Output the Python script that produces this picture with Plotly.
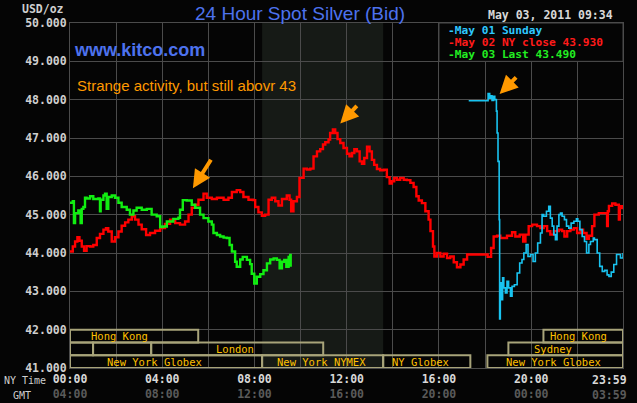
import plotly.graph_objects as go

# hours after 00:00 NY time, bid price in USD/oz
may01_hours = [17.29, 18.08, 18.13, 18.20, 18.26, 18.30, 18.37, 18.42, 18.49, 18.52, 18.56, 18.61,
               18.63, 18.66, 18.71, 18.76, 18.81, 18.88, 18.95, 19.02, 19.10, 19.17, 19.27, 19.39,
               19.50, 19.60, 19.68, 19.78, 19.86, 19.97, 20.08, 20.18, 20.28, 20.40, 20.47, 20.54,
               20.66, 20.76, 20.83, 20.91, 20.98, 21.05, 21.12, 21.20, 21.27, 21.34, 21.44, 21.53,
               21.63, 21.73, 21.85, 21.96, 22.02, 22.11, 22.21, 22.31, 22.40, 22.50, 22.57, 22.69,
               22.74, 22.86, 22.97, 23.08, 23.19, 23.29, 23.37, 23.47, 23.58, 23.70, 23.80, 23.87,
               23.98]
may01_price = [47.97, 47.97, 48.16, 48.04, 48.10, 47.98, 48.09, 48.00, 47.70, 47.13, 46.39, 44.87,
               42.28, 43.22, 42.78, 43.35, 43.09, 42.96, 43.26, 43.09, 42.87, 43.13, 43.17, 43.48,
               43.74, 43.83, 44.00, 44.22, 43.91, 43.96, 43.78, 44.00, 44.26, 44.52, 45.00, 44.96,
               45.09, 45.22, 44.91, 44.70, 44.48, 44.35, 44.70, 45.00, 45.04, 44.96, 44.87, 44.70,
               44.65, 44.78, 44.83, 44.89, 44.83, 44.61, 44.43, 44.30, 44.00, 44.22, 44.30, 44.39,
               44.35, 44.00, 43.65, 43.52, 43.55, 43.43, 43.39, 43.50, 43.70, 43.96, 43.96, 43.87,
               44.00]

may02_hours = [0.00, 0.12, 0.22, 0.32, 0.41, 0.51, 0.61, 0.72, 0.87, 1.01, 1.16, 1.30, 1.45, 1.56,
               1.66, 1.81, 1.95, 2.10, 2.24, 2.39, 2.53, 2.68, 2.82, 2.97, 3.11, 3.30, 3.47, 3.69,
               3.91, 4.12, 4.34, 4.56, 4.77, 4.99, 5.14, 5.28, 5.43, 5.57, 5.79, 5.93, 6.15, 6.37,
               6.66, 6.87, 7.02, 7.23, 7.38, 7.52, 7.74, 7.93, 8.03, 8.17, 8.32, 8.46, 8.61, 8.75,
               8.90, 9.04, 9.19, 9.40, 9.52, 9.59, 9.69, 9.84, 9.95, 10.13, 10.27, 10.42, 10.56,
               10.71, 10.85, 10.97, 11.07, 11.21, 11.28, 11.40, 11.50, 11.60, 11.72, 11.86, 12.01,
               12.12, 12.23, 12.33, 12.44, 12.56, 12.66, 12.76, 12.88, 12.99, 13.09, 13.19, 13.31,
               13.45, 13.60, 13.74, 13.86, 13.96, 14.06, 14.18, 14.32, 14.47, 14.61, 14.76, 14.90,
               15.02, 15.12, 15.26, 15.41, 15.55, 15.63, 15.74, 15.80, 15.91, 16.06, 16.20, 16.35,
               16.49, 16.64, 16.78, 16.93, 17.07, 17.22, 18.08, 18.11, 18.26, 18.37, 18.52, 18.66,
               18.81, 18.95, 19.17, 19.31, 19.50, 19.65, 19.75, 19.89, 20.04, 20.25, 20.40, 20.54,
               20.69, 20.83, 20.98, 21.20, 21.34, 21.44, 21.56, 21.70, 21.85, 21.99, 22.14, 22.25,
               22.40, 22.50, 22.64, 22.74, 22.93, 23.15, 23.29, 23.32, 23.37, 23.51, 23.65, 23.80,
               23.84, 23.94, 23.98]
may02_price = [44.04, 44.17, 44.30, 44.41, 44.32, 44.17, 44.06, 44.18, 44.17, 44.21, 44.39, 44.50,
               44.61, 44.65, 44.56, 44.30, 44.41, 44.56, 44.71, 44.80, 44.87, 44.96, 44.87, 44.74,
               44.62, 44.47, 44.52, 44.58, 44.65, 44.76, 44.87, 44.78, 44.74, 44.82, 45.00, 45.18,
               45.26, 45.39, 45.55, 45.44, 45.41, 45.44, 45.39, 45.44, 45.59, 45.64, 45.59, 45.46,
               45.39, 45.38, 45.20, 45.06, 44.97, 45.00, 45.39, 45.44, 45.35, 45.24, 45.41, 45.50,
               45.39, 45.09, 45.35, 45.46, 45.96, 46.20, 46.18, 46.20, 46.52, 46.65, 46.71, 46.83,
               46.89, 46.96, 47.13, 47.22, 47.13, 46.97, 46.87, 46.74, 46.59, 46.52, 46.61, 46.71,
               46.65, 46.39, 46.33, 46.48, 46.77, 46.65, 46.43, 46.30, 46.19, 46.16, 46.17, 45.98,
               45.81, 45.87, 45.96, 45.91, 45.96, 45.91, 45.90, 45.83, 45.72, 45.48, 45.37, 45.30,
               45.09, 44.87, 44.57, 44.17, 43.91, 44.00, 43.91, 43.98, 43.87, 43.91, 43.76, 43.63,
               43.70, 43.83, 43.96, 43.96, 43.90, 44.13, 44.43, 44.45, 44.39, 44.39, 44.45, 44.54,
               44.43, 44.48, 44.30, 44.48, 44.70, 44.74, 44.70, 44.65, 44.70, 44.57, 44.48, 44.57,
               44.61, 44.57, 44.43, 44.57, 44.61, 44.65, 44.52, 44.61, 44.52, 44.37, 44.45, 44.70,
               45.00, 45.04, 45.04, 44.70, 45.09, 45.23, 45.29, 45.26, 44.87, 45.22, 45.17, 45.17]

may03_hours = [0.00, 0.12, 0.17, 0.22, 0.36, 0.46, 0.51, 0.58, 0.65, 0.72, 0.87, 1.01, 1.23, 1.30,
               1.33, 1.45, 1.52, 1.59, 1.66, 1.81, 1.95, 2.10, 2.24, 2.46, 2.60, 2.75, 2.89, 3.11,
               3.33, 3.54, 3.76, 3.91, 4.02, 4.20, 4.48, 4.70, 4.77, 4.89, 5.06, 5.28, 5.43, 5.64,
               5.79, 6.00, 6.15, 6.22, 6.37, 6.51, 6.66, 6.80, 6.92, 7.02, 7.16, 7.23, 7.38, 7.49,
               7.67, 7.81, 7.88, 7.99, 8.10, 8.25, 8.39, 8.54, 8.68, 8.83, 8.97, 9.09, 9.19, 9.29,
               9.38, 9.48, 9.55, 9.57]
may03_price = [45.31, 45.35, 44.78, 45.04, 45.11, 44.78, 45.15, 45.20, 45.44, 45.42, 45.48, 45.41,
               45.42, 45.09, 45.39, 45.50, 45.55, 45.15, 45.46, 45.50, 45.44, 45.31, 45.20, 45.13,
               45.00, 45.11, 45.18, 45.13, 45.15, 45.00, 44.96, 44.68, 44.69, 44.82, 44.89, 44.92,
               45.13, 45.38, 45.37, 45.26, 45.18, 45.00, 44.91, 44.82, 44.74, 44.52, 44.47, 44.43,
               44.40, 44.39, 44.21, 44.04, 43.77, 43.64, 43.83, 43.90, 43.82, 43.71, 43.46, 43.20,
               43.38, 43.45, 43.55, 43.73, 43.83, 43.86, 43.82, 43.60, 43.77, 43.82, 43.64, 43.90,
               43.95, 43.64]

series_names = ["May 01 Sunday", "May 02 NY close 43.930", "May 03 Last 43.490"]
series_colors = ["#19c3f0", "#ff0000", "#11ee11"]
legend_colors = ["#2ec8ff", "#ff1a1a", "#22ee22"]

# trading sessions: row 0 top, 2 bottom
session_row = [0, 1, 1, 1, 2, 2, 2, 2, 1, 0]
session_start = [0.0, 0.0, 1.0, 3.52, 0.0, 8.33, 13.58, 18.1, 19.01, 20.53]
session_end = [5.56, 1.0, 3.52, 10.98, 8.33, 13.58, 17.36, 23.98, 23.98, 23.98]
session_label = ["Hong Kong", "", "", "London", "New York Globex", "New York NYMEX",
                 "NY Globex", "New York Globex", "Sydney", "Hong Kong"]
session_label_x = [2.13, 0, 0, 7.16, 3.65, 10.92, 15.19, 20.96, 20.96, 22.05]

nymex_open, nymex_close = 8.33, 13.58

tick_hours = [0, 4, 8, 12, 16, 20]
ny_labels = ["00:00", "04:00", "08:00", "12:00", "16:00", "20:00"]
gmt_labels = ["04:00", "08:00", "12:00", "16:00", "20:00", "00:00"]

# arrow tips (hour, price)
arrow_tips = [(5.33, 45.69), (11.72, 47.38), (18.63, 48.15)]

MONO = "DejaVu Sans Mono"
SANS = "Liberation Sans, Arial"
GRID = "#4b4b4b"
W, H = 637, 403
L, R, T, B = 70, 14, 23, 35

fig = go.Figure()

for hrs, prc, col, w in [(may02_hours, may02_price, series_colors[1], 2.4),
                         (may03_hours, may03_price, series_colors[2], 2.4),
                         (may01_hours, may01_price, series_colors[0], 1.6)]:
    fig.add_trace(go.Scatter(x=hrs, y=prc, mode="lines", line=dict(color=col, width=w, shape="hv"),
                             showlegend=False, hoverinfo="skip"))

# NYMEX open shading
fig.add_shape(type="rect", xref="x", yref="y", x0=nymex_open, x1=nymex_close, y0=41, y1=50,
              fillcolor="#161a16", line_width=0, layer="below")

row_top = [42.0, 41.667, 41.333]
for r, s, e, lab, lx in zip(session_row, session_start, session_end, session_label, session_label_x):
    fig.add_shape(type="rect", xref="x", yref="y", x0=s, x1=e, y0=row_top[r] - 0.333, y1=row_top[r],
                  line=dict(color="#a8a47a", width=2), fillcolor="rgba(0,0,0,0)")
    if lab:
        fig.add_annotation(x=lx, y=row_top[r] - 0.1667, xref="x", yref="y", text=lab, showarrow=False,
                           font=dict(family=MONO, size=10.5, color="#ffc000"))

# legend box
fig.add_shape(type="rect", xref="x", yref="y", x0=16.0, x1=23.98, y0=49.0, y1=50.0,
              fillcolor="#050505", line=dict(color=GRID, width=1), layer="above")
for i, (name, col) in enumerate(zip(series_names, legend_colors)):
    fig.add_annotation(x=16.3, y=49.80 - i * 0.31, xref="x", yref="y", xanchor="left",
                       text="-" + name, showarrow=False,
                       font=dict(family=MONO, size=11.2, color=col, weight="bold"))

for (hx, py), (ax, ay) in zip(arrow_tips, [(19, -30), (18, -19), (18, -18)]):
    fig.add_annotation(x=hx, y=py, xref="x", yref="y", ax=ax, ay=ay, text="", showarrow=True,
                       arrowhead=2, arrowsize=0.9, arrowwidth=4, arrowcolor="#ff9900")

ticktext = [f"{a}<br><span style='color:#5a5a5a'>{b}</span>" for a, b in zip(ny_labels, gmt_labels)]

fig.update_layout(
    width=W, height=H,
    margin=dict(l=L, r=R, t=T, b=B, pad=0),
    paper_bgcolor="#050505", plot_bgcolor="#050505",
    xaxis=dict(range=[0, 23.98], tickvals=list(range(0, 24, 2)),
               ticktext=[ticktext[i // 2] if i % 2 == 0 else "" for i in range(12)],
               showgrid=True, gridcolor=GRID, gridwidth=1, zeroline=False, automargin=False,
               showline=True, linecolor=GRID, mirror=True, ticks="",
               tickfont=dict(family=MONO, size=11.5, color="#d8d8d8", weight="bold")),
    yaxis=dict(range=[41, 50], dtick=1, tickformat=".3f", showgrid=True, gridcolor=GRID,
               zeroline=False, showline=True, linecolor=GRID, mirror=True, ticks="", automargin=False,
               tickfont=dict(family=MONO, size=11.5, color="#cfcfcf", weight="bold")),
)

texts = [
    dict(x=300, y=14, text="24 Hour Spot Silver (Bid)", xanchor="center", font=dict(family=SANS, size=19, color="#4d72ee")),
    dict(x=66, y=9, text="USD/oz", xanchor="right", font=dict(family=MONO, size=11.5, color="#cfcfcf", weight="bold")),
    dict(x=550, y=15, text="May 03, 2011 09:34", xanchor="center", font=dict(family=MONO, size=11.5, color="#d8d8d8", weight="bold")),
    dict(x=72, y=50, text="www.kitco.com", xanchor="left", font=dict(family=SANS, size=18, color="#4d72ee", weight="bold")),
    dict(x=75, y=86, text="Strange activity, but still abovr 43", xanchor="left", font=dict(family=SANS, size=15, color="#ff9900")),
    dict(x=629, y=380, text="23:59", xanchor="right", font=dict(family=MONO, size=11.5, color="#d8d8d8", weight="bold")),
    dict(x=629, y=395, text="03:59", xanchor="right", font=dict(family=MONO, size=11.5, color="#5a5a5a", weight="bold")),
    dict(x=48, y=380, text="NY Time", xanchor="right", font=dict(family=MONO, size=10, color="#cfcfcf")),
    dict(x=33, y=395, text="GMT", xanchor="right", font=dict(family=MONO, size=10, color="#cfcfcf")),
]
pw, ph = W - L - R, H - T - B
for t in texts:
    fig.add_annotation(x=(t["x"] - L) / pw, y=(H - B - t["y"]) / ph, xref="paper", yref="paper",
                       xanchor=t["xanchor"], yanchor="middle", text=t["text"], showarrow=False,
                       font=t["font"])

# drop the page's default body margin so the figure sits at the window's corner
fig.write_html("out.html", config={"displayModeBar": False},
               post_script="document.body.style.margin='0';document.body.style.background='#050505';")
